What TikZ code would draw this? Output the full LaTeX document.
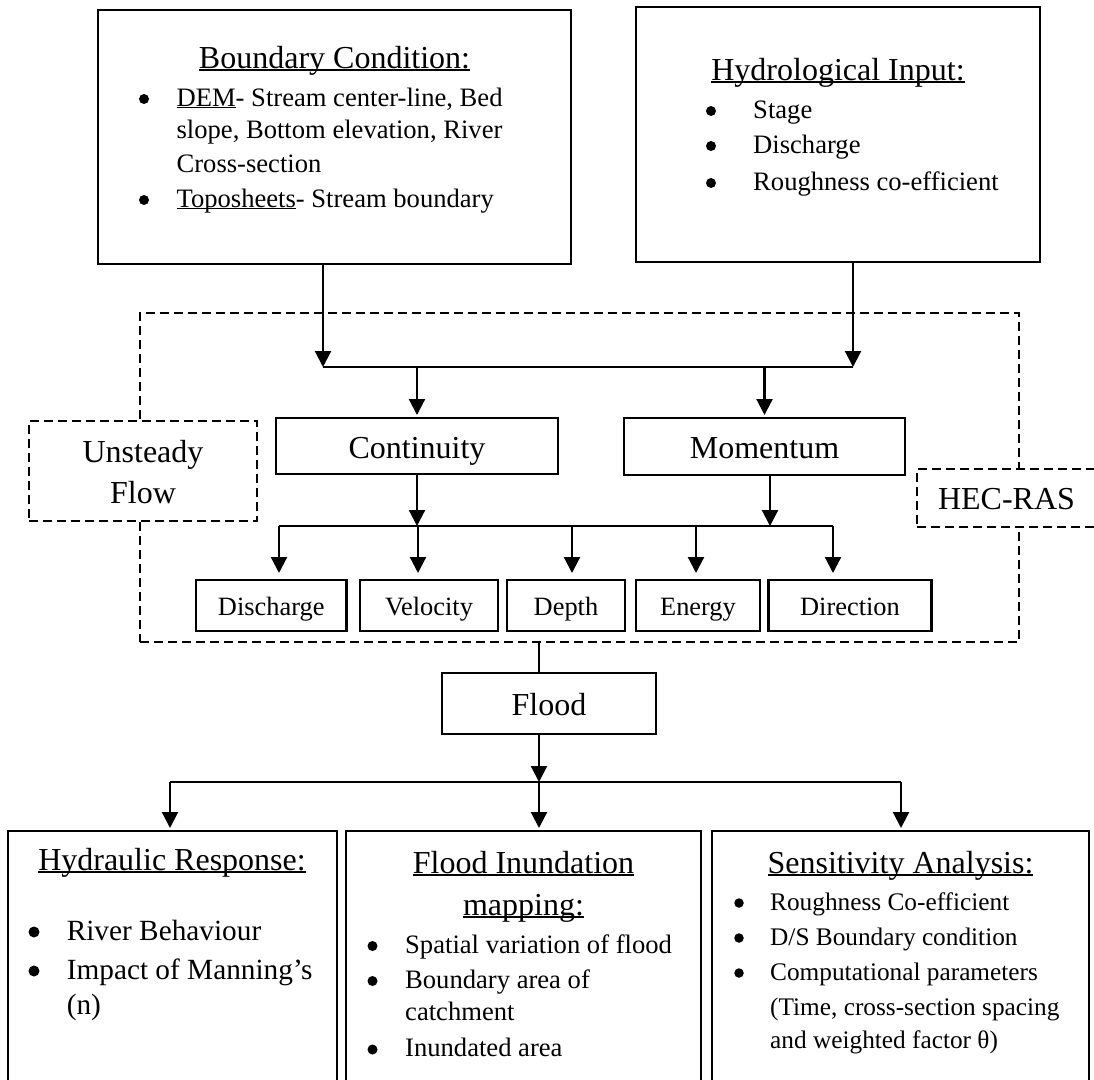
\documentclass[tikz,border=0pt]{standalone}
\usepackage{fontspec}
\setmainfont{Liberation Serif}
\usetikzlibrary{arrows.meta}
\newcommand{\myul}[1]{\setbox0=\hbox{#1}\rlap{\rule[-0.09em]{\wd0}{0.045em}}\copy0}
\begin{document}
\begin{tikzpicture}[x=1pt,y=-1pt,
  box/.style={draw, line width=2.4pt, anchor=north west, inner sep=0pt, outer sep=0pt},
  dbox/.style={draw, line width=2pt, dash pattern=on 9pt off 5pt, anchor=north west, inner sep=0pt, outer sep=0pt, fill=white},
  arr/.style={line width=2.2pt, -{Triangle[length=16pt,width=16pt]}},
  bus/.style={line width=1.4pt},
  big/.style={font=\fontsize{32}{38}\selectfont},
  tl/.style={anchor=base, inner sep=0pt, big},
  tx/.style={anchor=base west, inner sep=0pt, font=\fontsize{26.6}{32}\selectfont},
  dot/.style={circle, fill, inner sep=0pt, minimum size=10pt},
  small/.style={box, minimum height=51pt, font=\fontsize{26.4}{32}\selectfont, text height=22pt, text depth=3pt},
]
\useasboundingbox (0,0) rectangle (1094,1079);

% ---- top boxes
\node[box, minimum width=473pt, minimum height=254pt] (bc) at (98,10) {};
\node[box, minimum width=404pt, minimum height=255pt] (hi) at (636,7) {};

\node[tl] (bct) at (334.5,68) {\myul{Boundary Condition:}};
\node[dot] (bcb1) at (144,99) {};
\node[tx] (bc1) at (176.4,106) {\myul{DEM}- Stream center-line, Bed};
\node[tx] (bc2) at (176.4,138) {slope, Bottom elevation, River};
\node[tx] (bc3) at (176.4,172) {Cross-section};
\node[dot] (bcb2) at (144,200) {};
\node[tx] (bc4) at (176.4,207) {\myul{Toposheets}- Stream boundary};

\node[tl] (hit) at (838,80) {\myul{Hydrological Input:}};
\node[dot] (hib1) at (711,111) {};
\node[tx] (hi1) at (753,118) {Stage};
\node[dot] (hib2) at (711,146) {};
\node[tx] (hi2) at (753,153) {Discharge};
\node[dot] (hib3) at (711,183) {};
\node[tx] (hi3) at (753,190) {Roughness co-efficient};

% ---- HEC-RAS frame
\node[dbox, fill=none, minimum width=879pt, minimum height=329pt] (frame) at (140,313) {};
\node[dbox, minimum width=228pt, minimum height=100pt] (uf) at (29,421) {};
\node[anchor=base, inner sep=0pt, big] (uft) at (143,462)
  {\renewcommand{\arraystretch}{1}\setlength{\tabcolsep}{0pt}\fontsize{32}{41}\selectfont\begin{tabular}[t]{c}Unsteady\\Flow\end{tabular}};
\node[dbox, minimum width=179pt, minimum height=58pt, big, text height=24pt, text depth=2pt] (hec) at (917,469) {HEC-RAS};

% ---- equations
\node[box, minimum width=282pt, minimum height=56pt, big, text height=26pt, text depth=2pt] (cont) at (276,418) {Continuity};
\node[box, minimum width=281pt, minimum height=57pt, big, text height=26pt, text depth=2pt] (mom) at (624,418) {Momentum};

% ---- outputs
\node[small, minimum width=150.5pt] (dis) at (196,580) {Discharge};
\node[small, minimum width=138pt] (vel) at (360,580) {Velocity};
\node[small, minimum width=118pt] (dep) at (507,580) {Depth};
\node[small, minimum width=124pt] (ene) at (636,580) {Energy};
\node[small, minimum width=163pt] (dir) at (768.5,580) {Direction};

% ---- flood
\node[box, minimum width=214pt, minimum height=61pt, big, text height=26pt, text depth=2pt] (flood) at (442,673) {Flood};

% ---- bottom boxes
\node[box, minimum width=329pt, minimum height=279pt] (hr) at (8,831) {};
\node[box, minimum width=355pt, minimum height=279pt] (fi) at (346,831) {};
\node[box, minimum width=377pt, minimum height=279pt] (sa) at (712,831) {};

\node[tl] (hrt) at (172,870) {\myul{Hydraulic Response:}};
\begin{scope}[tx/.append style={font=\fontsize{29.3}{35}\selectfont}, dot/.append style={minimum size=11pt}]
\node[dot] (hrb1) at (34,932) {};
\node[tx] (hr1) at (66.6,940) {River Behaviour};
\node[dot] (hrb2) at (34,971) {};
\node[tx] (hr2) at (66.6,979) {Impact of Manning’s};
\node[tx] (hr3) at (66.6,1014) {(n)};
\end{scope}

\node[tl] (fit1) at (523.5,873) {\myul{Flood Inundation}};
\node[tl] (fit2) at (523.5,915) {\myul{mapping:}};
\node[dot] (fib1) at (372.5,946) {};
\node[tx] (fi1) at (405,953) {Spatial variation of flood};
\node[dot] (fib2) at (372.5,981) {};
\node[tx] (fi2) at (405,988) {Boundary area of};
\node[tx] (fi3) at (405,1020.5) {catchment};
\node[dot] (fib3) at (372.5,1049.5) {};
\node[tx] (fi4) at (405,1056.5) {Inundated area};

\node[tl] (sat) at (900.5,873) {\myul{Sensitivity Analysis:}};
\begin{scope}[tx/.append style={font=\fontsize{25.3}{31}\selectfont}, dot/.append style={minimum size=9.5pt}]
\node[dot] (sab1) at (739,903) {};
\node[tx] (sa1) at (770,910) {Roughness Co-efficient};
\node[dot] (sab2) at (739,938) {};
\node[tx] (sa2) at (770,945) {D/S Boundary condition};
\node[dot] (sab3) at (739,973) {};
\node[tx] (sa3) at (770,980) {Computational parameters};
\node[tx] (sa4) at (770,1015) {(Time, cross-section spacing};
\node[tx] (sa5) at (770,1048) {and weighted factor θ)};
\end{scope}

% ---- connectors
\coordinate (j1) at (323,367);
\coordinate (j2) at (853,367);
\draw[arr] (bc.south -| j1) -- (j1);
\draw[arr] (hi.south -| j2) -- (j2);
\draw[bus] (j1) -- (j2);
\draw[arr, shorten >=3pt] (cont.north |- j1) -- (cont.north);
\draw[arr, shorten >=3pt] (mom.north |- j1) -- (mom.north);

\coordinate (d1) at (279,526);
\coordinate (d2) at (418,526);
\coordinate (d3) at (572,526);
\coordinate (d4) at (696,526);
\coordinate (d5) at (833,526);
\coordinate (m2) at (770,526);
\draw[arr] (cont.south) -- (cont.south |- d1);
\draw[arr] (mom.south -| m2) -- (m2);
\draw[bus] (d1) -- (d5);
\draw[arr, shorten >=7pt] (d1) -- (dis.north -| d1);
\draw[arr, shorten >=7pt] (d2) -- (vel.north -| d2);
\draw[arr, shorten >=7pt] (d3) -- (dep.north -| d3);
\draw[arr, shorten >=7pt] (d4) -- (ene.north -| d4);
\draw[arr, shorten >=7pt] (d5) -- (dir.north -| d5);

\coordinate (f1) at (539,782);
\coordinate (g1) at (170,782);
\coordinate (g3) at (901,782);
\draw[line width=2.2pt] (frame.south -| f1) -- (flood.north -| f1);
\draw[arr] (flood.south -| f1) -- (f1);
\draw[bus] (g1) -- (g3);
\draw[arr, shorten >=3pt] (g1) -- (hr.north -| g1);
\draw[arr, shorten >=3pt] (f1) -- (fi.north -| f1);
\draw[arr, shorten >=3pt] (g3) -- (sa.north -| g3);
\end{tikzpicture}
\end{document}
